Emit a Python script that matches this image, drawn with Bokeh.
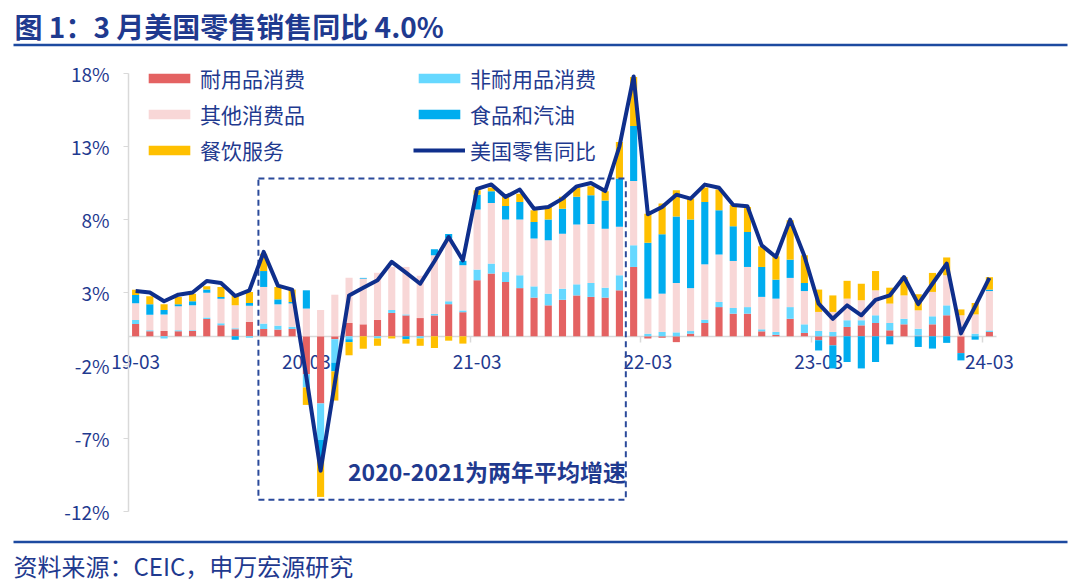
import numpy as np
import pandas as pd
from bokeh.plotting import figure
from bokeh.models import (Range1d, FixedTicker, PrintfTickFormatter, Legend, LegendItem,
                          ColumnDataSource, LinearAxis, Label)
from bokeh.embed import file_html
from bokeh.resources import INLINE
from bokeh.core.properties import value

# ---------------- data ----------------
months = [p.strftime("%y-%m") for p in pd.period_range("2019-03", "2024-03", freq="M")]
tick_labels = ["19-03", "20-03", "21-03", "22-03", "23-03", "24-03"]
y_ticks = [-12, -7, -2, 3, 8, 13, 18]

durable = [0.85, 0.34, 0.37, 0.34, 0.37, 1.19, 0.75, 0.48, 0.98, 0.5, 0.46, 0.5,
           -2.6, -4.6, -0.2, 0.91, 0.82, 1.12, 1.6, 1.43, 1.25, 1.43, 2.2, 1.65,
           3.84, 4.3, 3.72, 3.3, 2.65, 2.12, 2.5, 2.8, 2.7, 2.65, 3.15, 4.75,
           -0.15, -0.1, -0.4, 0.18, 0.91, 2.0, 1.55, 1.55, 0.34, 0.1, 1.2, 0.23,
           -0.27, -0.62, 0.64, 0.75, 0.91, 0.41, 0.82, 0.05, 0.82, 1.44, -1.15, 0.0, 0.3]
nondurable = [0.27, 0.07, -0.15, 0.07, 0.05, 0.09, 0.14, 0.07, -0.1, 0.37, 0.27, 0.15,
              -0.9, -2.5, -1.6, -0.2, 0.0, -0.15, 0.2, 0.07, -0.15, 0.1, 0.2, 0.12,
              0.73, 0.68, 0.68, 0.88, 0.77, 0.8, 0.76, 0.76, 0.95, 0.68, 1.03, 1.48,
              0.18, 0.3, 0.27, 0.18, 0.23, 0.35, 0.39, 0.45, 0.14, 0.2, 0.8, 0.59,
              0.37, 0.3, 0.46, 0.35, 0.53, 0.5, 0.38, 0.47, 0.55, 0.68, 0.0, 0.18, 0.1]
other = [1.14, 1.07, 1.13, 1.64, 1.7, 1.71, 1.69, 1.57, 1.12, 2.51, 1.46, 1.6,
         1.9, 1.8, 2.85, 3.1, 3.13, 3.23, 2.95, 3.25, 2.9, 4.02, 4.3, 3.1,
         4.11, 4.15, 3.6, 3.82, 3.28, 3.66, 3.77, 4.09, 4.05, 4.04, 3.32, 4.41,
         2.4, 2.62, 3.38, 2.94, 3.79, 3.25, 3.22, 2.75, 2.22, 2.28, 2.0, 2.28,
         1.3, 1.37, 1.48, 1.37, 1.71, 1.33, 1.6, 1.26, 1.67, 2.06, 1.44, 1.32, 2.7]
food_gas = [0.57, 0.71, 0.3, 0.14, 0.28, 0.21, 0.12, -0.23, 0.18, 1.09, 0.34, 0.1,
            1.25, -1.3, -0.6, -0.2, 0.05, 0.0, 0.0, -0.2, 0.0, 0.41, 0.3, 0.3,
            1.02, 0.8, 0.93, 1.2, 1.13, 1.42, 1.71, 1.9, 1.96, 1.93, 3.3, 3.76,
            3.82, 4.07, 4.55, 4.7, 4.27, 3.03, 2.37, 2.4, 2.05, 1.3, 1.25, 0.55,
            -0.7, -1.58, -1.76, -2.2, -1.76, -0.55, 0.0, -0.73, -0.84, -0.45, -0.5, -0.23, 0.1]
restaurant = [0.35, 0.55, 0.39, 0.51, 0.52, 0.22, 0.68, 0.69, 0.76, 1.19, 0.85, 0.85,
              -1.2, -2.6, -2.0, -0.9, -0.85, -0.5, -0.15, -0.3, -0.5, -0.8, -0.3, -0.5,
              0.3, 0.27, 0.62, 0.57, 0.8, 0.85, 0.81, 0.65, 0.61, 0.63, 2.5, 3.36,
              2.0, 2.11, 1.8, 1.43, 1.0, 1.42, 1.47, 1.71, 1.41, 1.6, 2.7, 1.9,
              1.53, 1.13, 1.22, 1.13, 1.32, 1.09, 1.26, 1.1, 1.3, 1.22, 0.4, 0.78, 0.85]
retail_yoy = [3.1, 3.0, 2.4, 2.85, 3.0, 3.79, 3.65, 2.76, 3.15, 5.78, 3.47, 3.2,
              -2.8, -9.2, -3.2, 2.8, 3.33, 3.84, 5.1, 4.36, 3.6, 5.14, 6.8, 5.2,
              10.1, 10.4, 9.55, 10.05, 8.74, 8.86, 9.43, 10.27, 10.5, 9.95, 13.0, 17.8,
              8.36, 8.86, 9.7, 9.43, 10.39, 10.18, 9.0, 8.9, 6.23, 5.43, 7.99, 5.5,
              2.24, 1.2, 2.12, 1.44, 2.5, 2.8, 4.06, 2.2, 3.6, 4.98, 0.2, 2.05, 4.0]

series_names = ["耐用品消费", "非耐用品消费", "其他消费品", "食品和汽油", "餐饮服务"]
line_name = "美国零售同比"
box_note = "2020-2021为两年平均增速"
title_text = "图 1：3 月美国零售销售同比 4.0%"
source_text = "资料来源：CEIC，申万宏源研究"

# annotation box (data units) and note position
box_left, box_right, box_top, box_bottom = 8.63, 34.45, 10.8, -11.2
note_x, note_y = 24.7, -9.2

# ---------------- layout / style ----------------
W, H = 1080, 583
FRAME_L, FRAME_R, FRAME_T, FRAME_B = 128, 996, 73, 511   # chart area in canvas pixels
FONT = "Noto Sans CJK SC"
NAVY = "#0F2F8C"
TEXT = "#1F3A8F"
RULE = "#1D4AA0"
GRAY = "#D9D9D9"
COLORS = ["#E46262", "#66D8FF", "#F8D7D7", "#00ADEF", "#FFC000"]

n = len(months)
x = np.arange(n)
xa0, xa1 = -0.5, n - 0.5
ya0, ya1 = y_ticks[0], y_ticks[-1]
sx = (FRAME_R - FRAME_L) / (xa1 - xa0)
sy = (FRAME_B - FRAME_T) / (ya1 - ya0)
x_range = Range1d(xa0 - FRAME_L / sx, xa1 + (W - FRAME_R) / sx)
y_range = Range1d(ya0 - (H - FRAME_B) / sy, ya1 + FRAME_T / sy)

def px2x(px):
    return x_range.start + px / sx

def py2y(py):
    return y_range.end - py / sy

p = figure(width=W, height=H, x_range=x_range, y_range=y_range, output_backend="svg",
           toolbar_location=None, x_axis_location=None, y_axis_location=None, min_border=0)
p.outline_line_color = None
p.grid.visible = False
p.background_fill_color = "white"

# stacked bars (positive up / negative down)
renderers = []
pos = np.zeros(n)
neg = np.zeros(n)
for vals, color in zip([durable, nondurable, other, food_gas, restaurant], COLORS):
    v = np.array(vals, dtype=float)
    bottom = np.where(v >= 0, pos, neg + v)
    top = np.where(v >= 0, pos + v, neg)
    pos = pos + np.clip(v, 0, None)
    neg = neg + np.clip(v, None, 0)
    src = ColumnDataSource(dict(x=x, bottom=bottom, top=top))
    r = p.vbar(x="x", bottom="bottom", top="top", width=0.5, source=src,
               fill_color=color, line_color=None)
    renderers.append(r)

# dashed box + note
p.quad(left=[box_left], right=[box_right], top=[box_top], bottom=[box_bottom],
       fill_alpha=0, line_color="#2B4A9B", line_width=2, line_dash="6 4")
p.text(x=[note_x], y=[note_y], text=[box_note], text_align="center", text_baseline="middle",
       text_font=value(FONT), text_font_style="bold", text_font_size="23px", text_color=TEXT)

line_r = p.line(x, retail_yoy, line_width=4, line_color=NAVY, line_join="round")

# axes placed at fixed locations
tick_idx = [months.index(t) for t in tick_labels]
xaxis = LinearAxis(fixed_location=0, bounds=(xa0, xa1),
                   ticker=FixedTicker(ticks=tick_idx, minor_ticks=[i - 0.5 for i in tick_idx[1:]]),
                   major_label_overrides={i: t for i, t in zip(tick_idx, tick_labels)},
                   axis_line_color=GRAY, axis_line_width=1.5,
                   major_tick_out=0, major_tick_in=0,
                   minor_tick_out=6, minor_tick_in=0, minor_tick_line_color=GRAY,
                   minor_tick_line_width=1.5, major_label_standoff=13,
                   major_label_text_font=FONT, major_label_text_font_size="19px",
                   major_label_text_color=TEXT, level="underlay")
p.add_layout(xaxis, "below")

yaxis = LinearAxis(fixed_location=xa0, bounds=(ya0, ya1),
                   ticker=FixedTicker(ticks=y_ticks, minor_ticks=[]),
                   formatter=PrintfTickFormatter(format="%d%%"),
                   axis_line_color=GRAY, axis_line_width=1.5,
                   major_tick_line_color=GRAY, major_tick_out=5, major_tick_in=0,
                   minor_tick_out=0, minor_tick_in=0, major_label_standoff=14,
                   major_label_text_font=FONT, major_label_text_font_size="19px",
                   major_label_text_color=TEXT, level="underlay")
p.add_layout(yaxis, "left")

# legends (two columns)
def make_legend(items, loc):
    return Legend(items=items, location=loc, orientation="vertical",
                  glyph_width=52, glyph_height=12, label_height=22, spacing=6,
                  label_standoff=5, padding=0, margin=0, border_line_color=None,
                  background_fill_alpha=0, label_text_font=FONT,
                  label_text_font_size="21px", label_text_color=TEXT)

leg1 = make_legend([LegendItem(label=series_names[0], renderers=[renderers[0]]),
                    LegendItem(label=series_names[2], renderers=[renderers[2]]),
                    LegendItem(label=series_names[4], renderers=[renderers[4]])], (143, 418))
leg2 = make_legend([LegendItem(label=series_names[1], renderers=[renderers[1]]),
                    LegendItem(label=series_names[3], renderers=[renderers[3]]),
                    LegendItem(label=line_name, renderers=[line_r])], (413, 418))
p.add_layout(leg1)
p.add_layout(leg2)

# header / footer
p.add_layout(Label(x=14, y=H - 25, x_units="screen", y_units="screen", text=title_text,
                   text_baseline="middle", text_font=FONT, text_font_style="bold",
                   text_font_size="28px", text_color=TEXT))
p.add_layout(Label(x=13, y=H - 565, x_units="screen", y_units="screen", text=source_text,
                   text_baseline="middle", text_font=FONT, text_font_size="24px",
                   text_color=TEXT))
p.segment(x0=[px2x(13), px2x(13)], y0=[py2y(44.5), py2y(541.5)],
          x1=[px2x(1067), px2x(1067)], y1=[py2y(44.5), py2y(541.5)],
          line_width=2.5, line_color=RULE)

open("out.html", "w").write(file_html(p, INLINE))
